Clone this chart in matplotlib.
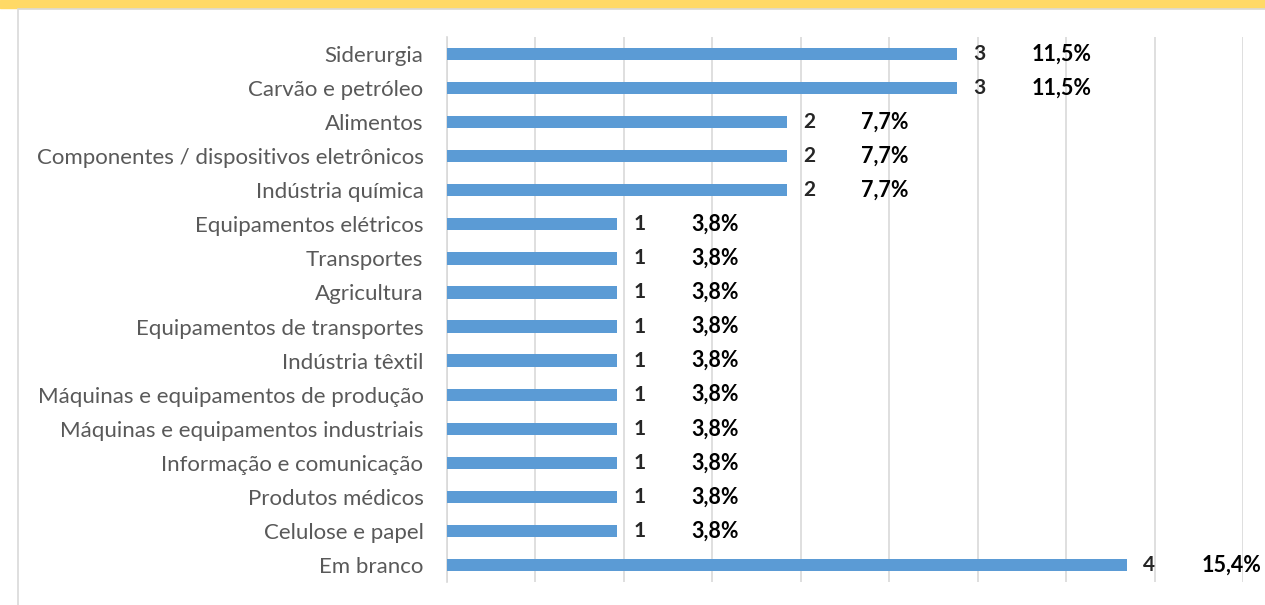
import matplotlib.pyplot as plt
import numpy as np

categories = ['Siderurgia', 'Carvão e petróleo', 'Alimentos',
              'Componentes / dispositivos eletrônicos', 'Indústria química',
              'Equipamentos elétricos', 'Transportes', 'Agricultura',
              'Equipamentos de transportes', 'Indústria têxtil',
              'Máquinas e equipamentos de produção',
              'Máquinas e equipamentos industriais',
              'Informação e comunicação', 'Produtos médicos',
              'Celulose e papel', 'Em branco']
counts = [3, 3, 2, 2, 2, 1, 1, 1, 1, 1, 1, 1, 1, 1, 1, 4]
pct_labels = ['11,5%', '11,5%', '7,7%', '7,7%', '7,7%', '3,8%', '3,8%', '3,8%',
              '3,8%', '3,8%', '3,8%', '3,8%', '3,8%', '3,8%', '3,8%', '15,4%']
total = 26

plt.rcParams['font.family'] = ['Lato', 'DejaVu Sans']

fig = plt.figure(figsize=(12.65, 6.05), dpi=100)
# yellow banner at the top (title cut off)
fig.patches.append(plt.Rectangle((0, 1 - 8 / 605), 1, 8 / 605, transform=fig.transFigure,
                                 color='#FFD966', zorder=0))
# chart area border
fig.patches.append(plt.Rectangle((18 / 1265, -0.01), 1.0, 1 - 9 / 605 + 0.01,
                                 transform=fig.transFigure, fill=False,
                                 edgecolor='#D9D9D9', linewidth=1.2, zorder=0))

ax = fig.add_axes([447 / 1265, (605 - 582) / 605, (1243 - 447) / 1265, (582 - 37) / 605])

y = np.arange(len(categories))
vals = np.array(counts) / total * 100
ax.barh(y, vals, height=0.36, color='#5B9BD5', zorder=3)
ax.set_xlim(0, 18)
ax.set_ylim(len(categories) - 0.5, -0.5)
ax.set_xticks(np.arange(0, 19, 2))
ax.xaxis.grid(True, color='#D9D9D9', linewidth=1.2, zorder=0)
ax.tick_params(axis='x', length=0, labelbottom=False)
ax.tick_params(axis='y', length=0, pad=17, labelsize=16, labelcolor='#595959')
ax.set_yticks(y)
ax.set_yticklabels(categories)
for s in ['top', 'right', 'bottom']:
    ax.spines[s].set_visible(False)
ax.spines['left'].set_color('#D9D9D9')
ax.spines['left'].set_linewidth(1.2)

for yi, v, c, p in zip(y, vals, counts, pct_labels):
    ax.annotate(str(c), (v, yi), xytext=(16, 0), textcoords='offset pixels',
                va='center', ha='left', fontsize=15, fontweight='bold', color='#262626')
    ax.annotate(p, (v, yi), xytext=(74, 0), textcoords='offset pixels',
                va='center', ha='left', fontsize=15.5, fontweight='bold', color='black')

fig.savefig('out.png', dpi=100)
